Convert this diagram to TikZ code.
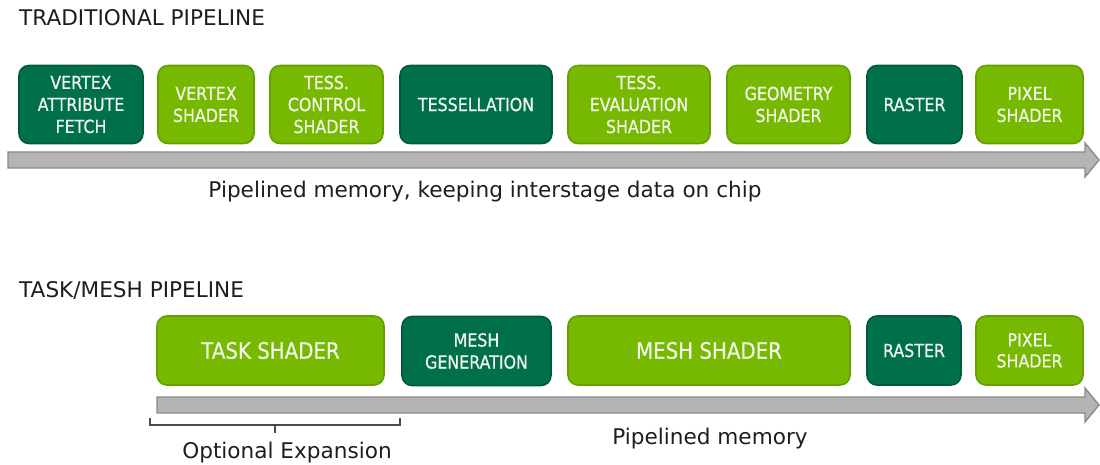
\documentclass[tikz,border=0pt]{standalone}
\usepackage{fontspec}
\setmainfont{DejaVu Sans}
\newfontfamily\boxfont[FakeStretch=0.88,FakeBold=0.6]{DejaVu Sans}
\definecolor{dkgreen}{HTML}{00704C}
\definecolor{dkgreenb}{HTML}{005A3C}
\definecolor{ltgreen}{HTML}{76B900}
\definecolor{ltgreenb}{HTML}{66A000}
\definecolor{arrowfill}{HTML}{B4B4B4}
\definecolor{arrowline}{HTML}{8A8A8A}
\definecolor{txt}{HTML}{1E1E1E}
\definecolor{boxtxt}{HTML}{F2F6EA}
\begin{document}
\begin{tikzpicture}[x=1pt,y=-1pt,
  stage/.style={rounded corners=10pt, line width=1.6pt, inner sep=0pt, align=center,
    text=boxtxt, font=\boxfont\fontsize{18}{22}\selectfont},
  darkstage/.style={stage, fill=dkgreen, draw=dkgreenb},
  lightstage/.style={stage, fill=ltgreen, draw=ltgreenb},
  bigtext/.style={font=\boxfont\fontsize{22.5}{26}\selectfont},
  memarrow/.style={fill=arrowfill, draw=arrowline, line width=1.4pt, line join=miter},
  label/.style={text=txt, font=\fontsize{21.6}{25}\selectfont, inner sep=0pt, anchor=base}
]
\useasboundingbox (0,0) rectangle (1100,465);
% titles
\node[label, anchor=base west] (t1) at (19,26) {TRADITIONAL PIPELINE};
\node[label, anchor=base west] (t2) at (19,297) {TASK/MESH PIPELINE};
% top arrow
\draw[memarrow] (8,152) -- (1085,152) -- (1085,143) -- (1099,160) -- (1085,177) -- (1085,168) -- (8,168) -- cycle;
% top row
\node[darkstage, minimum width=124pt, minimum height=78pt] (vaf) at (81,104.5) {VERTEX\\ATTRIBUTE\\FETCH};
\node[lightstage, minimum width=96pt, minimum height=78pt] (vs) at (206,104.5) {VERTEX\\SHADER};
\node[lightstage, minimum width=113pt, minimum height=78pt] (tcs) at (326.5,104.5) {TESS.\\CONTROL\\SHADER};
\node[darkstage, minimum width=152pt, minimum height=78pt] (tess) at (476,104.5) {TESSELLATION};
\node[lightstage, minimum width=142pt, minimum height=78pt] (tes) at (639,104.5) {TESS.\\EVALUATION\\SHADER};
\node[lightstage, minimum width=123pt, minimum height=78pt] (gs) at (788.5,104.5) {GEOMETRY\\SHADER};
\node[darkstage, minimum width=95pt, minimum height=78pt] (ras1) at (914.5,104.5) {RASTER};
\node[lightstage, minimum width=107pt, minimum height=78pt] (pix1) at (1029.5,104.5) {PIXEL\\SHADER};
\node[label] (m1) at (485,197) {Pipelined memory, keeping interstage data on chip};
% bottom arrow
\draw[memarrow] (157,397) -- (1085,397) -- (1085,388) -- (1099,405) -- (1085,422) -- (1085,413) -- (157,413) -- cycle;
% bottom row
\node[lightstage, bigtext, minimum width=227pt, minimum height=69pt] (task) at (270.5,350.5) {TASK SHADER};
\node[darkstage, minimum width=149pt, minimum height=69pt, font=\boxfont\fontsize{18}{22}\selectfont] (mgen) at (476.5,351) {MESH\\GENERATION};
\node[lightstage, bigtext, minimum width=282pt, minimum height=69pt] (mesh) at (709,350.5) {MESH SHADER};
\node[darkstage, minimum width=94pt, minimum height=69pt] (ras2) at (914,350.5) {RASTER};
\node[lightstage, minimum width=107pt, minimum height=69pt, font=\boxfont\fontsize{18}{21}\selectfont] (pix2) at (1029.5,350.5) {PIXEL\\SHADER};
% bracket
\coordinate (bl) at (150,418);
\coordinate (br) at (400,418);
\coordinate (bm) at (275,425);
\coordinate (bt) at (275,433);
\draw[draw=txt!80, line width=2pt] (bl) -- (150,425) -- (400,425) -- (br);
\draw[draw=txt!80, line width=2pt] (bm) -- (bt);
\node[label] (opt) at (287,458) {Optional Expansion};
\node[label] (m2) at (710,444) {Pipelined memory};
\end{tikzpicture}
\end{document}
